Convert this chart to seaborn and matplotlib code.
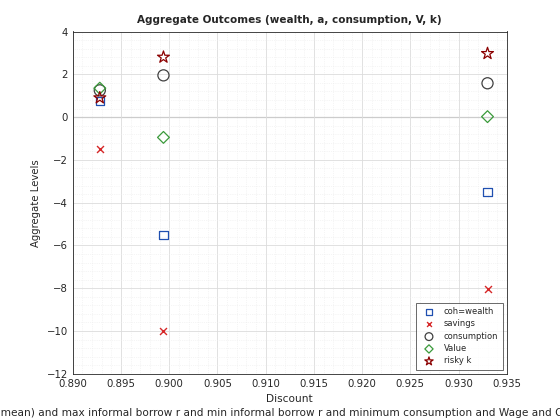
import numpy as np
import pandas as pd
import seaborn as sns
import matplotlib.pyplot as plt
from matplotlib.ticker import MultipleLocator

# discount values and aggregate outcomes
discount = [0.8928, 0.8994, 0.9330]
coh_wealth = [0.75, -5.5, -3.5]
savings = [-1.5, -10.0, -8.05]
consumption = [1.25, 1.95, 1.58]
value = [1.35, -0.95, 0.02]
risky_k = [0.9, 2.8, 2.97]

series = {
    "coh=wealth": (coh_wealth, "s", "#1f4fb0", 6),
    "savings": (savings, "x", "#d62728", 5),
    "consumption": (consumption, "o", "#404040", 8),
    "Value": (value, "D", "#3a9a3a", 6),
    "risky k": (risky_k, "*", "#8b0000", 9),
}

rows = []
for name, (vals, _, _, _) in series.items():
    for d, v in zip(discount, vals):
        rows.append({"Discount": d, "Level": v, "series": name})
df = pd.DataFrame(rows)

sns.set_style("white")
plt.rcParams['font.family'] = ['DejaVu Sans']
fig, ax = plt.subplots(figsize=(5.6, 4.2), dpi=100)
fig.subplots_adjust(left=0.13, right=0.905, top=0.925, bottom=0.11)

for name, (vals, mk, col, ms) in series.items():
    sub = df[df["series"] == name]
    if mk == "x":
        kw = dict(color=col, linewidth=1)
    else:
        kw = dict(facecolor="none", edgecolor=col, linewidth=0.9)
    sns.scatterplot(data=sub, x="Discount", y="Level", marker=mk, s=ms**2,
                    ax=ax, label=name, **kw)

ax.axhline(0, color="#808080", linewidth=0.8, zorder=0)
ax.set_xlim(0.89, 0.935)
ax.set_ylim(-12, 4)
ax.xaxis.set_major_locator(MultipleLocator(0.005))
ax.yaxis.set_major_locator(MultipleLocator(2))
ax.xaxis.set_minor_locator(MultipleLocator(0.001))
ax.yaxis.set_minor_locator(MultipleLocator(0.4))
ax.grid(True, which="major", color="#dcdcdc", linewidth=0.6)
ax.grid(True, which="minor", color="#ececec", linewidth=0.5, linestyle=":")
ax.set_axisbelow(True)
for s in ax.spines.values():
    s.set_color("#262626")
    s.set_linewidth(0.6)
ax.tick_params(labelsize=7.3, length=3, direction="in", colors="#262626")

ax.set_title("Aggregate Outcomes (wealth, a, consumption, V, k)", fontsize=7.5, fontweight="bold")
ax.set_ylabel("Aggregate Levels", fontsize=7.3)
ax.set_xlabel("Discount\nDiscount and (mean) and max informal borrow r and min informal borrow r "
              "and minimum consumption and Wage and CRRA and Discount", fontsize=7.6, linespacing=1.5)

leg = ax.legend(loc="lower right", fontsize=6, frameon=True, fancybox=False,
                edgecolor="#262626", borderpad=0.5, labelspacing=0.4, markerscale=0.7)
leg.get_frame().set_linewidth(0.6)

fig.savefig("out.png", dpi=100)
